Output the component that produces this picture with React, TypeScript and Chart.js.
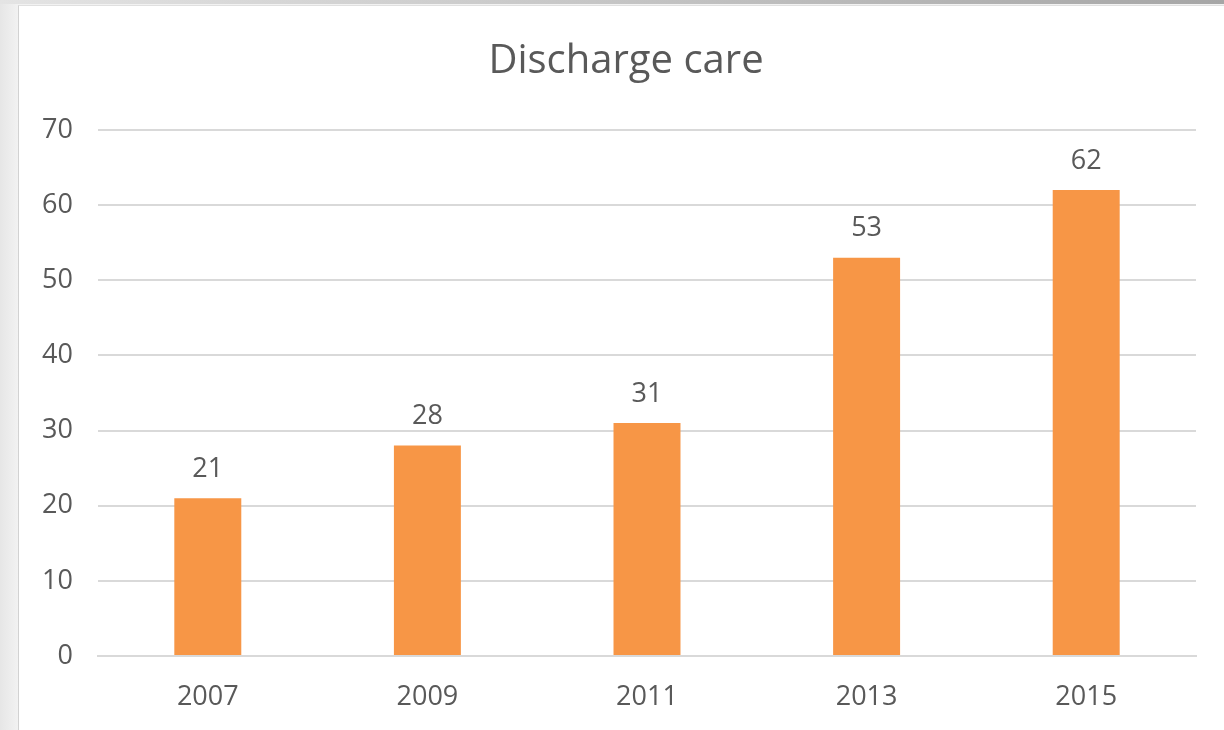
import React, { useEffect, useRef } from "react";
import { Chart, registerables } from "chart.js";

Chart.register(...registerables);

const chartTitle = "Discharge care";
const categories = ["2007", "2009", "2011", "2013", "2015"];
const values = [21, 28, 31, 53, 62];
const yMin = 0;
const yMax = 70;
const yStep = 10;

const FONT = "'Open Sans', 'Noto Sans', sans-serif";
const TEXT = "#595959";
const GRID = "#d9d9d9";
const BAR = "#f79646";

const dataLabels = {
  id: "dataLabels",
  afterDatasetsDraw(chart: any) {
    const ctx = chart.ctx;
    const meta = chart.getDatasetMeta(0);
    ctx.save();
    ctx.font = `27px ${FONT}`;
    ctx.fillStyle = TEXT;
    ctx.textAlign = "center";
    ctx.textBaseline = "middle";
    meta.data.forEach((bar: any, i: number) => {
      const v = chart.data.datasets[0].data[i];
      ctx.fillText(String(v), bar.x, bar.y - 29);
    });
    ctx.restore();
  },
};

// Centre the title over the white panel rather than the padded canvas box.
const titleShift = {
  id: "titleShift",
  afterLayout(chart: any) {
    const t = chart.titleBlock;
    if (t) {
      t.left += 28;
      t.right += 28;
    }
  },
};

export default function App() {
  const canvasRef = useRef<HTMLCanvasElement | null>(null);

  useEffect(() => {
    if (!canvasRef.current) return;
    const chart = new Chart(canvasRef.current, {
      type: "bar",
      data: {
        labels: categories,
        datasets: [
          {
            label: chartTitle,
            data: values,
            backgroundColor: BAR,
            borderWidth: 0,
            categoryPercentage: 1,
            barPercentage: 0.305,
          },
        ],
      },
      options: {
        animation: false,
        responsive: false,
        maintainAspectRatio: false,
        layout: { padding: { left: 0, right: 28, top: 0, bottom: 0 } },
        plugins: {
          legend: { display: false },
          tooltip: { enabled: false },
          title: {
            display: true,
            text: chartTitle,
            color: TEXT,
            font: { family: FONT, size: 40, weight: "normal" },
            padding: { top: 38, bottom: 44 },
          },
        },
        scales: {
          x: {
            grid: { display: false, drawTicks: false },
            border: { display: true, color: GRID, width: 2 },
            ticks: {
              color: TEXT,
              font: { family: FONT, size: 27 },
              padding: 25,
            },
            afterFit(scale: any) {
              scale.height = 74;
            },
          },
          y: {
            min: yMin,
            max: yMax,
            grid: { color: GRID, lineWidth: 2, drawTicks: false },
            border: { display: false },
            ticks: {
              stepSize: yStep,
              color: TEXT,
              font: { family: FONT, size: 27 },
              padding: 25,
            },
            afterFit(scale: any) {
              scale.width = 98;
            },
          },
        },
      },
      plugins: [dataLabels, titleShift],
    });
    return () => chart.destroy();
  }, []);

  return (
    <div
      style={{
        position: "fixed",
        left: 0,
        top: 0,
        width: 1224,
        height: 730,
        overflow: "hidden",
        background: "linear-gradient(to right, #e6e6e6, #f2f2f2 18px, #f2f2f2)",
      }}
    >
      <div
        style={{
          position: "absolute",
          left: 0,
          top: 0,
          width: 1224,
          height: 4,
          background: "linear-gradient(to right, #e4e4e4, #a6a6a6)",
        }}
      />
      <div
        style={{
          position: "absolute",
          left: 18,
          top: 5,
          width: 1206,
          height: 725,
          background: "#ffffff",
          borderLeft: "1px solid #d2d2d2",
          borderTop: "1px solid #e0e0e0",
          boxSizing: "border-box",
        }}
      />
      <canvas
        ref={canvasRef}
        width={1224}
        height={730}
        style={{ position: "absolute", left: 0, top: 0, width: 1224, height: 730 }}
      />
    </div>
  );
}
